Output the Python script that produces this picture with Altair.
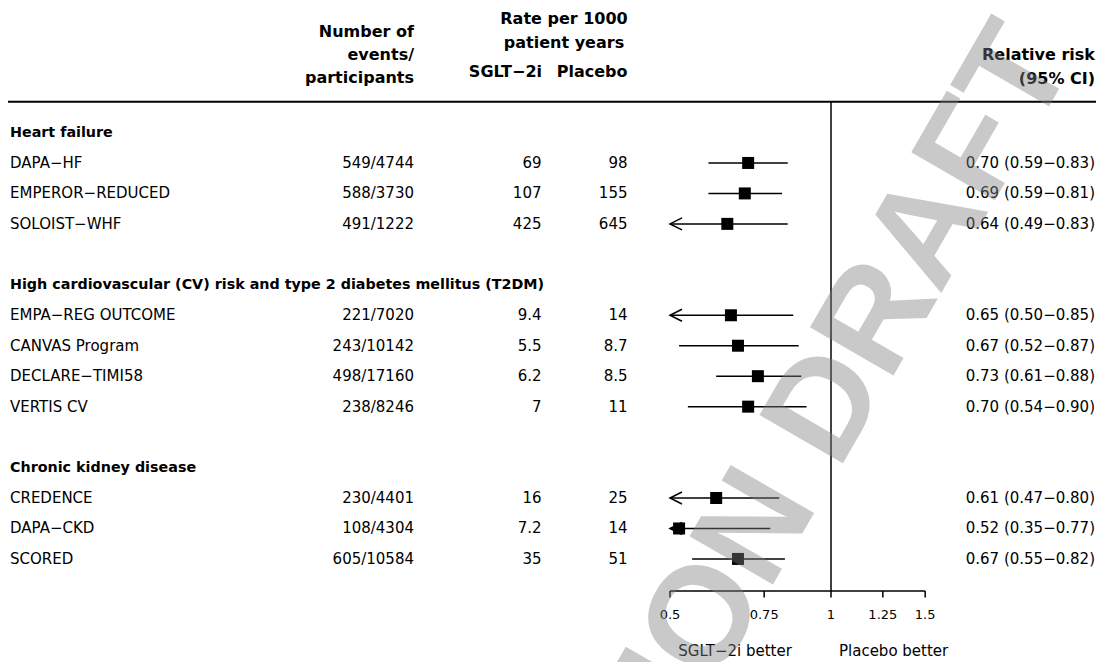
import math
import altair as alt
import pandas as pd

# ---------------- data ----------------
group_names = [
    "Heart failure",
    "High cardiovascular (CV) risk and type 2 diabetes mellitus (T2DM)",
    "Chronic kidney disease",
]
group_rows = [0, 5, 11]

trials = ["DAPA−HF", "EMPEROR−REDUCED", "SOLOIST−WHF", "EMPA−REG OUTCOME",
          "CANVAS Program", "DECLARE−TIMI58", "VERTIS CV", "CREDENCE",
          "DAPA−CKD", "SCORED"]
trial_rows = [1, 2, 3, 6, 7, 8, 9, 12, 13, 14]
events = ["549/4744", "588/3730", "491/1222", "221/7020", "243/10142",
          "498/17160", "238/8246", "230/4401", "108/4304", "605/10584"]
rate_sglt2 = [69, 107, 425, 9.4, 5.5, 6.2, 7, 16, 7.2, 35]
rate_placebo = [98, 155, 645, 14, 8.7, 8.5, 11, 25, 14, 51]
rr = [0.70, 0.69, 0.64, 0.65, 0.67, 0.73, 0.70, 0.61, 0.52, 0.67]
lower = [0.59, 0.59, 0.49, 0.50, 0.52, 0.61, 0.54, 0.47, 0.35, 0.55]
upper = [0.83, 0.81, 0.83, 0.85, 0.87, 0.88, 0.90, 0.80, 0.77, 0.82]

tick_values = [0.5, 0.75, 1, 1.25, 1.5]
tick_labels = ["0.5", "0.75", "1", "1.25", "1.5"]
x_clip = 0.5

# ---------------- layout ----------------
W, H = 1088, 654
FONT = "DejaVu Sans"
ORIGIN = 823.0      # pixel of RR = 1
PX_LN = 232.3       # pixels per unit of ln(RR)
XMIN = math.exp(-ORIGIN / PX_LN)
XMAX = math.exp((W - ORIGIN) / PX_LN)
ROW0, ROW_H = 124.5, 30.46
YMIN = -ROW0 / ROW_H
YMAX = (H - ROW0) / ROW_H
RULE_Y = -1.01
AXIS_Y = 15.05

xs = alt.Scale(type="log", domain=[XMIN, XMAX], nice=False)
ys = alt.Scale(domain=[YMIN, YMAX], reverse=True, nice=False, zero=False)


def X(f):
    return alt.X(f, type="quantitative", scale=xs, axis=None)


def Y(f):
    return alt.Y(f, type="quantitative", scale=ys, axis=None)


trial_df = pd.DataFrame({
    "row": trial_rows, "trial": trials, "events": events,
    "sglt": [f"{v:g}" for v in rate_sglt2],
    "plac": [f"{v:g}" for v in rate_placebo],
    "rr": rr, "lo": lower, "hi": upper,
})
trial_df["lo_plot"] = trial_df["lo"].clip(lower=x_clip)
trial_df["rr_text"] = [f"{a:.2f} ({b:.2f}−{c:.2f})" for a, b, c in zip(rr, lower, upper)]
arrow_df = trial_df[trial_df["lo"] <= x_clip].assign(xa=x_clip)

group_df = pd.DataFrame({"row": group_rows, "name": group_names})

# column headers
hdr = pd.DataFrame([
    {"t": "Number of", "x": 406, "y": 24, "a": "right"},
    {"t": "events/", "x": 406, "y": 47, "a": "right"},
    {"t": "participants", "x": 406, "y": 70, "a": "right"},
    {"t": "Rate per 1000", "x": 556, "y": 11, "a": "center"},
    {"t": "patient years", "x": 556, "y": 35, "a": "center"},
    {"t": "SGLT−2i", "x": 534, "y": 64, "a": "right"},
    {"t": "Placebo", "x": 619.5, "y": 64, "a": "right"},
    {"t": "Relative risk", "x": 1087, "y": 47, "a": "right"},
    {"t": "(95% CI)", "x": 1087, "y": 71, "a": "right"},
])

layers = []

# top rule
layers.append(alt.Chart(pd.DataFrame({"y": [RULE_Y]})).mark_rule(
    color="black", strokeWidth=2).encode(
    x=alt.value(0), x2=alt.value(W), y=Y("y")))

# vertical line of no effect
layers.append(alt.Chart(pd.DataFrame({"x": [1.0], "y": [RULE_Y], "y2": [AXIS_Y]})).mark_rule(
    color="black", strokeWidth=1.5).encode(x=X("x"), y=Y("y"), y2="y2"))

# axis line
layers.append(alt.Chart(pd.DataFrame({"x": [tick_values[0]], "x2": [tick_values[-1]], "y": [AXIS_Y]})).mark_rule(
    color="black", strokeWidth=1.5).encode(x=X("x"), x2="x2", y=Y("y")))

tick_df = pd.DataFrame({"x": tick_values, "lab": tick_labels, "y": AXIS_Y, "y2": AXIS_Y + 0.22, "yl": AXIS_Y + 0.8})
layers.append(alt.Chart(tick_df).mark_rule(color="black", strokeWidth=1.5).encode(
    x=X("x"), y=Y("y"), y2="y2"))
layers.append(alt.Chart(tick_df).mark_text(font=FONT, fontSize=13, align="center", baseline="middle",
                                          color="black").encode(x=X("x"), y=Y("yl"), text="lab"))

# favours labels
fav = pd.DataFrame({"t": ["SGLT−2i better", "Placebo better"], "x": [0.845, 1.035],
                    "a": ["right", "left"], "y": [17.02, 17.02]})
layers.append(alt.Chart(fav[fav.a == "right"]).mark_text(font=FONT, fontSize=15, align="right",
                                                        baseline="middle", color="black").encode(
    x=X("x"), y=Y("y"), text="t"))
layers.append(alt.Chart(fav[fav.a == "left"]).mark_text(font=FONT, fontSize=15, align="left",
                                                       baseline="middle", color="black").encode(
    x=X("x"), y=Y("y"), text="t"))

# group headers
layers.append(alt.Chart(group_df).mark_text(font=FONT, fontSize=14.3, fontWeight="bold", align="left",
                                           baseline="middle", color="black").encode(
    x=alt.value(2), y=Y("row"), text="name"))

# table columns
for field, xpos, al in [("trial", 2, "left"), ("events", 406, "right"), ("sglt", 533.5, "right"),
                        ("plac", 619.5, "right"), ("rr_text", 1087, "right")]:
    layers.append(alt.Chart(trial_df).mark_text(font=FONT, fontSize=15, align=al, baseline="middle",
                                               color="black").encode(
        x=alt.value(xpos), y=Y("row"), text=field))

# CI lines
layers.append(alt.Chart(trial_df).mark_rule(color="black", strokeWidth=1.5).encode(
    x=X("lo_plot"), x2="hi", y=Y("row")))

# arrows for truncated CIs
layers.append(alt.Chart(arrow_df).mark_point(shape="M1.2,-0.6L0,0L1.2,0.6", filled=False, size=400,
                                            color="black", strokeWidth=1.5, opacity=1).encode(
    x=X("xa"), y=Y("row")))

# point estimates
layers.append(alt.Chart(trial_df).mark_point(shape="square", filled=True, size=144, color="black",
                                            opacity=1).encode(x=X("rr"), y=Y("row")))

# column headers
for al in ["right", "center"]:
    layers.append(alt.Chart(hdr[hdr.a == al]).mark_text(font=FONT, fontSize=16, fontWeight="bold",
                                                       align=al, baseline="middle", color="black").encode(
        x=alt.Y("x:Q", scale=None, axis=None), y=alt.Y("y:Q", scale=None, axis=None), text="t"))

# watermark
layers.append(alt.Chart(pd.DataFrame({"t": ["CONSULTATION DRAFT"]})).mark_text(
    font="Liberation Sans", fontSize=140, fontWeight="bold", align="left", baseline="middle", angle=300,
    color="#808080", opacity=0.42, clip=True).encode(
    x=alt.value(234), y=alt.value(1412), text="t"))

chart = alt.layer(*layers).properties(
    width=W, height=H, padding=0,
    autosize=alt.AutoSizeParams(type="none"),
).configure_view(stroke=None)

chart.save("out.html", embed_options={"renderer": "svg", "actions": False})
